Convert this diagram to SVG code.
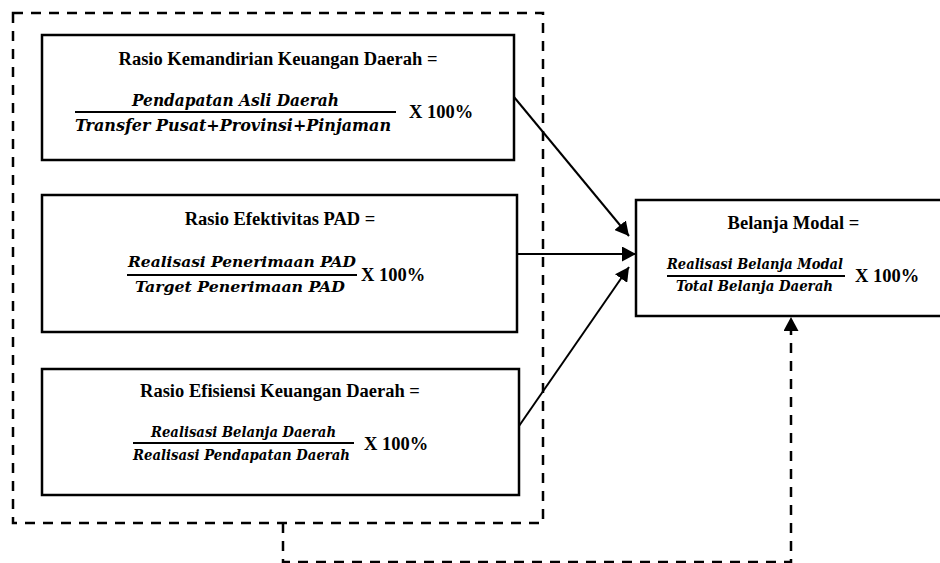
<svg xmlns="http://www.w3.org/2000/svg" width="940" height="563" viewBox="0 0 940 563">
<style>
.box{fill:#fff;stroke:#000;stroke-width:2.5}
.title{font-family:"Liberation Serif","Times New Roman",serif;font-weight:bold;font-size:18.5px;fill:#000}
.pct{font-family:"Liberation Serif","Times New Roman",serif;font-weight:bold;font-size:18.5px;fill:#000}
.frac{font-family:"DejaVu Serif Condensed","DejaVu Serif",serif;font-weight:bold;font-style:italic;fill:#000}
.bar{stroke:#000;stroke-width:2}
.conn{fill:none;stroke:#000;stroke-width:2}
.dash{fill:none;stroke:#000;stroke-width:2.5;stroke-dasharray:10 8}
</style>
<defs>
<marker id="ah" markerUnits="userSpaceOnUse" markerWidth="15" markerHeight="15" refX="14" refY="7.5" orient="auto">
<path d="M0,0 L14,7.5 L0,15 z" fill="#000"/>
</marker>
</defs>
<rect width="940" height="563" fill="#fff"/>
<g id="group-frame">
<rect class="dash" x="13" y="13" width="530" height="510" fill="none"/>
</g>
<g id="node-kemandirian">
<rect class="box" x="42" y="35" width="472" height="125"/>
<text class="title" x="278" y="65" text-anchor="middle">Rasio Kemandirian Keuangan Daerah =</text>
<text class="frac" x="132" y="106" font-size="16" textLength="207" lengthAdjust="spacingAndGlyphs">Pendapatan Asli Daerah</text>
<line class="bar" x1="75" y1="112" x2="396" y2="112"/>
<text class="frac" x="75" y="131" font-size="16" textLength="316" lengthAdjust="spacingAndGlyphs">Transfer Pusat+Provinsi+Pinjaman</text>
<text class="pct" x="409" y="118">X 100%</text>
</g>
<g id="node-efektivitas">
<rect class="box" x="42" y="195" width="475" height="137"/>
<text class="title" x="280" y="225" text-anchor="middle">Rasio Efektivitas PAD =</text>
<text class="frac" x="128" y="267" font-size="15" textLength="228" lengthAdjust="spacingAndGlyphs">Realisasi Penerimaan PAD</text>
<line class="bar" x1="127" y1="275" x2="357" y2="275"/>
<text class="frac" x="135" y="292" font-size="15" textLength="210" lengthAdjust="spacingAndGlyphs">Target Penerimaan PAD</text>
<text class="pct" x="361" y="281">X 100%</text>
</g>
<g id="node-efisiensi">
<rect class="box" x="42" y="369" width="477" height="126"/>
<text class="title" x="280" y="397" text-anchor="middle">Rasio Efisiensi Keuangan Daerah =</text>
<text class="frac" x="151" y="437" font-size="14" textLength="185" lengthAdjust="spacingAndGlyphs">Realisasi Belanja Daerah</text>
<line class="bar" x1="133" y1="443" x2="354" y2="443"/>
<text class="frac" x="133" y="460" font-size="14" textLength="217" lengthAdjust="spacingAndGlyphs">Realisasi Pendapatan Daerah</text>
<text class="pct" x="364" y="450">X 100%</text>
</g>
<g id="node-belanja-modal">
<rect class="box" x="636" y="200" width="310" height="116"/>
<text class="title" x="793.5" y="229" text-anchor="middle">Belanja Modal =</text>
<text class="frac" x="667" y="269" font-size="14.5" textLength="176" lengthAdjust="spacingAndGlyphs">Realisasi Belanja Modal</text>
<line class="bar" x1="667" y1="276" x2="845" y2="276"/>
<text class="frac" x="676" y="291" font-size="14.5" textLength="157" lengthAdjust="spacingAndGlyphs">Total Belanja Daerah</text>
<text class="pct" x="855" y="282">X 100%</text>
</g>
<g id="connectors">
<line class="conn" x1="514" y1="97" x2="629" y2="236" marker-end="url(#ah)"/>
<line class="conn" x1="517" y1="254" x2="636" y2="254" marker-end="url(#ah)"/>
<line class="conn" x1="519" y1="426" x2="629" y2="267" marker-end="url(#ah)"/>
<path class="dash" d="M283 523 V562 H791 V317" marker-end="url(#ah)"/>
</g>
</svg>
